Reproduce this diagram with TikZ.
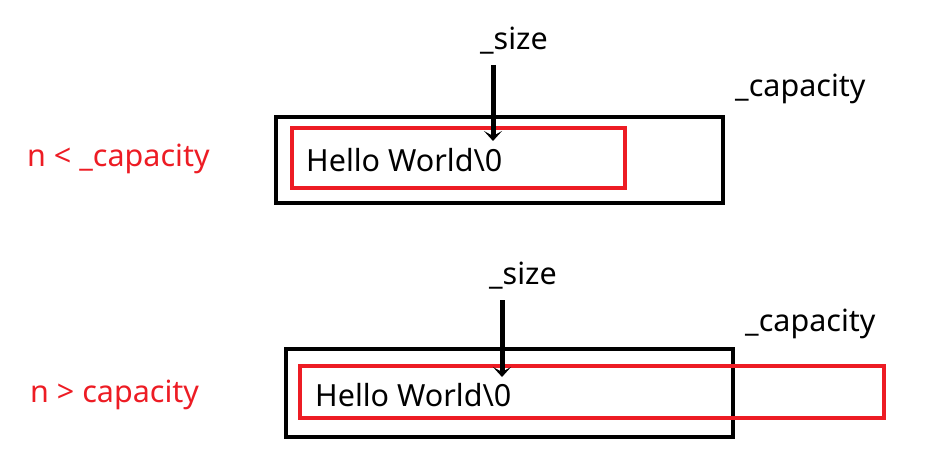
\documentclass[tikz,border=0pt]{standalone}
\usepackage{fontspec}
\setmainfont{Noto Sans}
\usetikzlibrary{arrows.meta, positioning}
\definecolor{markred}{HTML}{ED1C24}

\begin{document}
\begin{tikzpicture}[
  x=1pt, y=-1pt,
  lbl/.style={inner sep=0pt, anchor=base west, font=\fontsize{30.5}{36}\selectfont},
  redlbl/.style={lbl, text=markred},
  capbox/.style={draw, line width=4.5pt, inner sep=0pt},
  strbox/.style={draw=markred, line width=4.5pt, inner sep=0pt},
  ptr/.style={line width=5pt, -{Stealth[length=10pt, width=18pt, inset=5pt]}}
]
\useasboundingbox (0,0) rectangle (940,465);

% n < _capacity
\node[capbox, minimum width=447pt, minimum height=86pt] (cap1) at (499.5,160) {};
\node[strbox, minimum width=333pt, minimum height=60pt] (str1) at (458.5,158) {};
\node[lbl] (hello1) at (306,172) {Hello World\textbackslash 0};
\node[lbl] (size1) at (480,50) {\_size};
\node[lbl] (capl1) at (735,97) {\_capacity};
\node[redlbl] (cond1) at (27,167) {n < \_capacity};
\coordinate (ptr1a) at (493,65);
\coordinate (ptr1b) at (493,141);
\draw[ptr] (ptr1a) -- (ptr1b);

% n > capacity
\node[capbox, minimum width=447pt, minimum height=88pt] (cap2) at (509.5,393) {};
\node[strbox, minimum width=584pt, minimum height=52pt] (str2) at (592,392) {};
\node[lbl] (hello2) at (315,406) {Hello World\textbackslash 0};
\node[lbl] (size2) at (489,284) {\_size};
\node[lbl] (capl2) at (745,331) {\_capacity};
\node[redlbl] (cond2) at (30,402) {n > capacity};
\coordinate (ptr2a) at (502,300);
\coordinate (ptr2b) at (502,377);
\draw[ptr] (ptr2a) -- (ptr2b);
\end{tikzpicture}
\end{document}
